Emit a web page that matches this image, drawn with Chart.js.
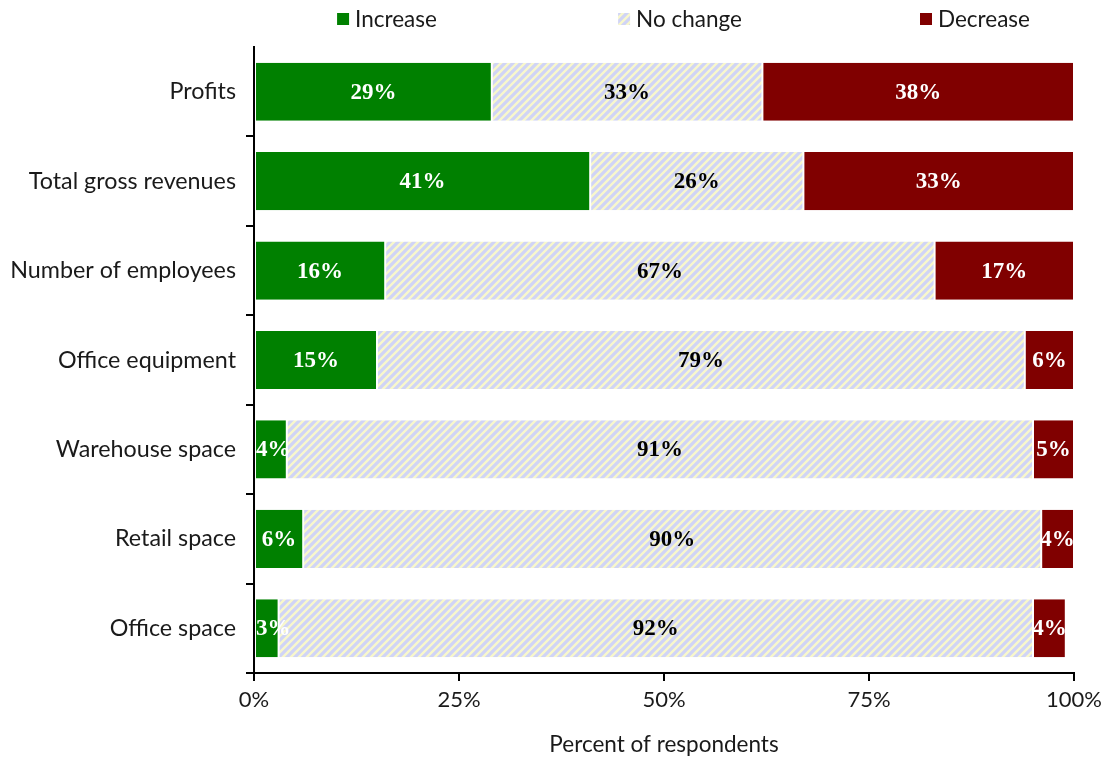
<!DOCTYPE html>
<html>
<head>
<meta charset="utf-8">
<script src="https://cdn.jsdelivr.net/npm/chart.js@4/dist/chart.umd.min.js"></script>
<style>
  html, body { margin: 0; padding: 0; background: #ffffff; }
  #wrap { width: 1109px; height: 764px; }
</style>
</head>
<body>
<div id="wrap"><canvas id="c" width="1109" height="764"></canvas></div>
<script>
// Survey outcomes: share of respondents reporting a change, by item
const categories = [
  'Profits',
  'Total gross revenues',
  'Number of employees',
  'Office equipment',
  'Warehouse space',
  'Retail space',
  'Office space'
];
const seriesNames = ['Increase', 'No change', 'Decrease'];
const increase = [29, 41, 16, 15, 4, 6, 3];
const noChange = [33, 26, 67, 79, 91, 90, 92];
const decrease = [38, 33, 17, 6, 5, 4, 4];
const xTicks = [0, 25, 50, 75, 100];

const SANS = 'Lato, "Open Sans", sans-serif';
const SERIF = '"Liberation Serif", "DejaVu Serif", serif';

// Diagonal blue/yellow hatch used for the "No change" segments
function makeHatch() {
  const s = 8;
  const c = document.createElement('canvas');
  c.width = s; c.height = s;
  const g = c.getContext('2d');
  g.fillStyle = '#f8f7cc';
  g.fillRect(0, 0, s, s);
  g.strokeStyle = '#d0d4f6';
  g.lineWidth = 3.2;
  g.beginPath();
  g.moveTo(-2, 2); g.lineTo(2, -2);
  g.moveTo(0, s); g.lineTo(s, 0);
  g.moveTo(s - 2, s + 2); g.lineTo(s + 2, s - 2);
  g.stroke();
  return g.createPattern(c, 'repeat');
}
const hatch = makeHatch();

const GREEN = '#008000';
const RED = '#800000';

// Percent labels in the middle of each segment, kept inside the plot area
const segmentLabels = {
  id: 'segmentLabels',
  afterDatasetsDraw(chart) {
    const ctx = chart.ctx;
    const area = chart.chartArea;
    ctx.save();
    ctx.beginPath();
    ctx.rect(area.left, area.top, area.right - area.left, area.bottom - area.top);
    ctx.clip();
    ctx.font = 'bold 23px ' + SERIF;
    ctx.textAlign = 'center';
    ctx.textBaseline = 'middle';
    chart.data.datasets.forEach((ds, di) => {
      const meta = chart.getDatasetMeta(di);
      ctx.fillStyle = ds.labelColor;
      meta.data.forEach((bar, i) => {
        const text = ds.data[i] + '%';
        const half = ctx.measureText(text).width / 2;
        let x = (bar.x + bar.base) / 2;
        if (x - half < area.left + 2) x = area.left + 2 + half;
        ctx.fillText(text, x, bar.y + 1);
      });
    });
    ctx.restore();
  }
};

// Legend row spread across the top of the chart
const spreadLegend = {
  id: 'spreadLegend',
  afterDraw(chart, args, opts) {
    const ctx = chart.ctx;
    ctx.save();
    ctx.font = '22.5px ' + SANS;
    ctx.textBaseline = 'middle';
    ctx.textAlign = 'left';
    const box = 12, gap = 6;
    chart.data.datasets.forEach((ds, i) => {
      const tw = ctx.measureText(ds.label).width;
      const w = box + gap + tw;
      const x0 = opts.centers[i] - w / 2;
      ctx.fillStyle = ds.backgroundColor;
      ctx.fillRect(x0, opts.y - box / 2, box, box);
      ctx.fillStyle = '#1a1a1a';
      ctx.fillText(ds.label, x0 + box + gap, opts.y + 1);
    });
    ctx.restore();
  }
};

const seg = { top: 0, bottom: 0, left: 1, right: 1 };

new Chart(document.getElementById('c'), {
  type: 'bar',
  data: {
    labels: categories,
    datasets: [
      { label: seriesNames[0], data: increase, backgroundColor: GREEN, labelColor: '#ffffff',
        borderColor: '#ffffff', borderWidth: seg, borderSkipped: false },
      { label: seriesNames[1], data: noChange, backgroundColor: hatch, labelColor: '#000000',
        borderColor: '#ffffff', borderWidth: seg, borderSkipped: false },
      { label: seriesNames[2], data: decrease, backgroundColor: RED, labelColor: '#ffffff',
        borderColor: '#ffffff', borderWidth: seg, borderSkipped: false }
    ]
  },
  options: {
    indexAxis: 'y',
    responsive: false,
    animation: false,
    devicePixelRatio: 1,
    layout: { padding: { top: 47, right: 35, bottom: 6, left: 8 } },
    datasets: { bar: { categoryPercentage: 0.65, barPercentage: 1 } },
    plugins: {
      legend: { display: false },
      tooltip: { enabled: false },
      spreadLegend: { centers: [387, 680, 975], y: 19 }
    },
    scales: {
      x: {
        stacked: true,
        min: 0,
        max: 100,
        afterBuildTicks(scale) { scale.ticks = xTicks.map(v => ({ value: v })); },
        grid: { drawOnChartArea: false, drawTicks: true, tickLength: 8, color: '#000', lineWidth: 2 },
        border: { display: true, color: '#000', width: 2 },
        ticks: {
          color: '#1a1a1a',
          font: { family: SANS, size: 22 },
          padding: 6,
          maxRotation: 0,
          callback: v => v + '%'
        },
        title: {
          display: true,
          text: 'Percent of respondents',
          color: '#1a1a1a',
          font: { family: SANS, size: 22.5 },
          padding: { top: 4, bottom: 0 }
        },
        afterFit(scale) { scale.height = 85; }
      },
      y: {
        stacked: true,
        grid: {
          drawOnChartArea: false,
          drawTicks: true,
          tickLength: 8,
          lineWidth: 2,
          offset: true,
          color: c => (c.index === 0 ? 'rgba(0,0,0,0)' : '#000')
        },
        border: { display: true, color: '#000', width: 2 },
        ticks: {
          color: '#1a1a1a',
          font: { family: SANS, size: 23.3 },
          padding: 10
        },
        afterFit(scale) { scale.width = 246; }
      }
    }
  },
  plugins: [segmentLabels, spreadLegend]
});
</script>
</body>
</html>
